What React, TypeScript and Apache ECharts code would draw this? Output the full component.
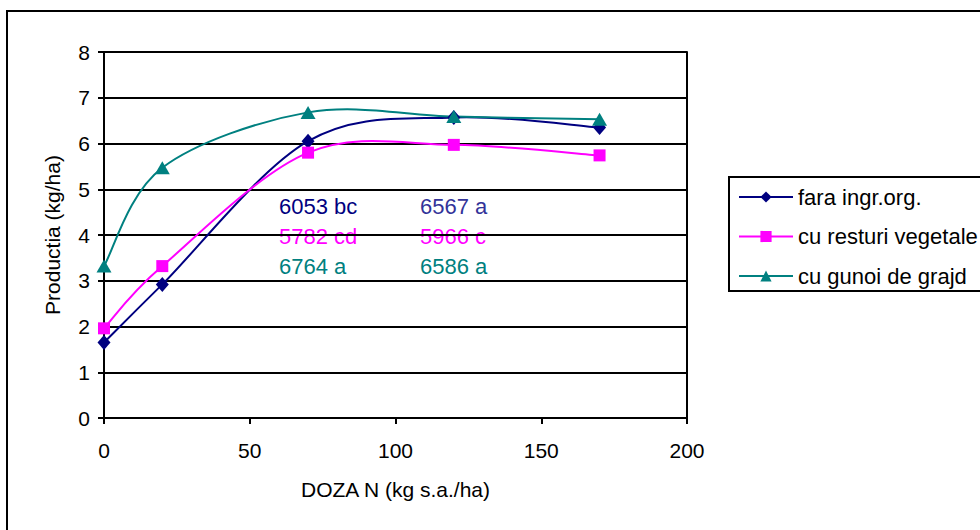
import React, { useEffect, useRef } from "react";
import * as echarts from "echarts";

const doses = [0, 20, 70, 120, 170];
const faraIngrOrg = [1.65, 2.92, 6.05, 6.57, 6.35];
const cuResturiVegetale = [1.96, 3.32, 5.8, 5.97, 5.74];
const cuGunoiDeGrajd = [3.32, 5.47, 6.68, 6.59, 6.53];
const seriesNames = ["fara ingr.org.", "cu resturi vegetale", "cu gunoi de grajd"];
const annotationsCol1 = ["6053 bc", "5782 cd", "6764 a"];
const annotationsCol2 = ["6567 a", "5966 c", "6586 a"];

const FONT = 'Arial, "Liberation Sans", sans-serif';

export default function App() {
  const ref = useRef<HTMLDivElement>(null);
  useEffect(() => {
    document.body.style.margin = "0";
    const chart = echarts.init(ref.current!, null, { renderer: "svg" });
    const pair = (ys: number[]) => doses.map((d, i) => [d, ys[i]]);
    const colors = ["#000080", "#FF00FF", "#008080"];
    const allValues = [faraIngrOrg, cuResturiVegetale, cuGunoiDeGrajd];
    const col1Colors = ["#000080", "#FF00FF", "#008080"];
    const col2Colors = ["#333399", "#FF00FF", "#008080"];
    const annY = [206, 236, 266];
    const graphics: any[] = [
      {
        type: "rect",
        shape: { x: 7, y: 11, width: 1100, height: 700 },
        style: { fill: "none", stroke: "#000", lineWidth: 2 },
        silent: true,
      },
    ];
    annotationsCol1.forEach((t, i) =>
      graphics.push({
        type: "text",
        x: 279,
        y: annY[i],
        style: { text: t, fill: col1Colors[i], font: `22px ${FONT}`, verticalAlign: "middle" },
      })
    );
    annotationsCol2.forEach((t, i) =>
      graphics.push({
        type: "text",
        x: 420,
        y: annY[i],
        style: { text: t, fill: col2Colors[i], font: `22px ${FONT}`, verticalAlign: "middle" },
      })
    );

    // Excel-like smoothed curve (Bezier with 1/6 tangents) via custom series
    const curveSeries = allValues.map((ys, si) => ({
      name: "curve" + si,
      type: "custom",
      coordinateSystem: "cartesian2d",
      z: 1,
      silent: true,
      encode: { x: 0, y: 1 },
      data: pair(ys),
      renderItem: (params: any, api: any) => {
        const i = params.dataIndex;
        const n = doses.length;
        if (i >= n - 1) return null;
        const pts = doses.map((d, k) => api.coord([d, ys[k]]));
        const p0 = pts[Math.max(0, i - 1)];
        const p1 = pts[i];
        const p2 = pts[i + 1];
        const p3 = pts[Math.min(n - 1, i + 2)];
        return {
          type: "bezierCurve",
          shape: {
            x1: p1[0],
            y1: p1[1],
            x2: p2[0],
            y2: p2[1],
            cpx1: p1[0] + (p2[0] - p0[0]) / 6,
            cpy1: p1[1] + (p2[1] - p0[1]) / 6,
            cpx2: p2[0] - (p3[0] - p1[0]) / 6,
            cpy2: p2[1] - (p3[1] - p1[1]) / 6,
          },
          style: { stroke: colors[si], lineWidth: 2, fill: "none" },
        };
      },
    }));

    chart.setOption({
      animation: false,
      backgroundColor: "#fff",
      textStyle: { fontFamily: FONT },
      grid: { left: 104, top: 52, right: 293, bottom: 112, containLabel: false },
      xAxis: {
        type: "value",
        min: 0,
        max: 200,
        interval: 50,
        name: "DOZA N (kg s.a./ha)",
        nameLocation: "middle",
        nameGap: 61,
        nameTextStyle: { fontSize: 21, color: "#000", fontFamily: FONT },
        axisLine: { show: true, lineStyle: { color: "#000", width: 2 } },
        axisTick: { show: true, inside: false, length: 6, lineStyle: { color: "#000", width: 2 } },
        axisLabel: { fontSize: 21, color: "#000", margin: 22, fontFamily: FONT },
        splitLine: { show: false },
      },
      yAxis: [
        {
          type: "value",
          min: 0,
          max: 8,
          interval: 1,
          name: "Productia (kg/ha)",
          nameLocation: "middle",
          nameGap: 41,
          nameRotate: 90,
          nameTextStyle: { fontSize: 21, color: "#000", fontFamily: FONT },
          axisLine: { show: true, lineStyle: { color: "#000", width: 2 } },
          axisTick: { show: true, inside: false, length: 6, lineStyle: { color: "#000", width: 2 } },
          axisLabel: { fontSize: 21, color: "#000", margin: 14, fontFamily: FONT },
          splitLine: { show: true, lineStyle: { color: "#000", width: 2 } },
        },
        {
          type: "value",
          min: 0,
          max: 8,
          interval: 1,
          position: "right",
          axisLine: { show: true, lineStyle: { color: "#000", width: 2 } },
          axisTick: { show: false },
          axisLabel: { show: false },
          splitLine: { show: false },
        },
      ],
      legend: {
        orient: "vertical",
        left: 729,
        top: 177,
        padding: [9, 12, 4, 9],
        borderColor: "#000",
        borderWidth: 2,
        itemWidth: 54,
        itemHeight: 14,
        itemGap: 17.5,
        textStyle: { fontSize: 22, color: "#000", fontFamily: FONT, lineHeight: 22 },
        data: seriesNames.map((nm, i) => ({
          name: nm,
          lineStyle: { width: 2, color: colors[i], opacity: 1 },
        })),
      },
      graphic: graphics,
      series: [
        {
          name: seriesNames[0],
          type: "line",
          data: pair(faraIngrOrg),
          z: 3,
          symbol: "diamond",
          symbolSize: [13, 15],
          color: colors[0],
          lineStyle: { width: 2, color: colors[0], opacity: 0 },
          itemStyle: { color: colors[0] },
        },
        {
          name: seriesNames[1],
          type: "line",
          data: pair(cuResturiVegetale),
          z: 3,
          symbol: "rect",
          symbolSize: 12,
          color: colors[1],
          lineStyle: { width: 2, color: colors[1], opacity: 0 },
          itemStyle: { color: colors[1] },
        },
        {
          name: seriesNames[2],
          type: "line",
          data: pair(cuGunoiDeGrajd),
          z: 3,
          symbol: "triangle",
          symbolSize: [15, 13],
          color: colors[2],
          lineStyle: { width: 2, color: colors[2], opacity: 0 },
          itemStyle: { color: colors[2] },
        },
        ...curveSeries,
      ],
    });
    return () => chart.dispose();
  }, []);
  return <div ref={ref} style={{ width: 980, height: 530 }} />;
}
